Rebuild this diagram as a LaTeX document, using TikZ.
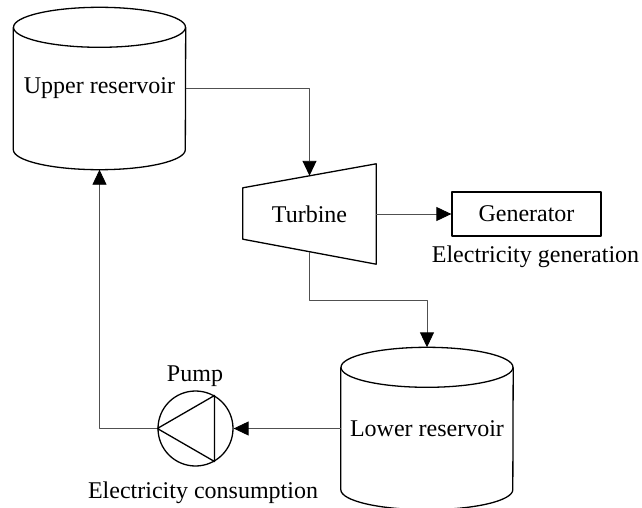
\documentclass[tikz,border=0pt]{standalone}
\usepackage{fontspec}
\setmainfont{Liberation Serif}
\usetikzlibrary{arrows.meta,calc,positioning}
\definecolor{psInk}{RGB}{0,0,0}
\definecolor{psWire}{RGB}{80,80,80}
\newcommand{\tankbody}[1]{%
  \draw[line width=1.3pt,psInk] ($(#1.north)+(0,20)$) ellipse [x radius=86,y radius=20];
  \draw[line width=1.3pt,psInk] ($(#1.north west)+(0,20)$) -- ($(#1.south west)+(0,-20)$)
    arc[start angle=180,end angle=0,x radius=86,y radius=20] -- ($(#1.north east)+(0,20)$);
}

\begin{document}
\begin{tikzpicture}[x=1pt,y=-1pt,line join=round,
    font=\fontsize{24}{28}\selectfont,
    box/.style={draw=none,inner sep=0pt},
    wire/.style={draw=psWire,line width=0.9pt,-{Triangle[length=15pt,width=14pt,psInk]}}]
  \useasboundingbox (0,0) rectangle (642,508);
  % storage tanks
  \node[box,minimum width=172pt,minimum height=162pt] (upper) at (99.5,88.5) {Upper reservoir};
  \node[box,minimum width=172pt,minimum height=162pt] (lower) at (427,428.5) {Lower reservoir};
  \tankbody{upper}
  \tankbody{lower}
  % turbine and generator
  \node[box,minimum width=133pt,minimum height=100pt] (turbine) at (309.5,214) {Turbine};
  \draw[line width=1.3pt,psInk] (turbine.north east) -- (turbine.south east)
    -- ($(turbine.south west)+(0,-25)$) -- ($(turbine.north west)+(0,24)$) -- cycle;
  \coordinate (tin) at ($(turbine.north)+(0,12)$);
  \coordinate (tout) at ($(turbine.south)+(0,-12.5)$);
  \node[draw=psInk,line width=1.3pt,inner sep=0pt,minimum width=149pt,minimum height=44pt] (gen) at (526.5,214) {Generator};
  \node[box] (genlbl) at (535.5,257) {Electricity generation};
  % pump
  \node[draw=psInk,line width=1.3pt,circle,inner sep=0pt,minimum size=75pt] (pump) at (195.5,428.5) {};
  \draw[line width=1.3pt,psInk] (pump.west) -- (pump.60) -- (pump.-60) -- cycle;
  \node[box] (pumplbl) at (195,376) {Pump};
  \node[box] (uselbl) at (203,493) {Electricity consumption};
  % flows
  \draw[wire] (upper.east) -| (tin);
  \draw[wire] (turbine.east) -- (gen.west);
  \draw[wire] (tout) -- ++(0,48.5) -| (lower.north);
  \draw[wire] (lower.west) -- (pump.east);
  \draw[wire] (pump.west) -| (upper.south);
\end{tikzpicture}
\end{document}
